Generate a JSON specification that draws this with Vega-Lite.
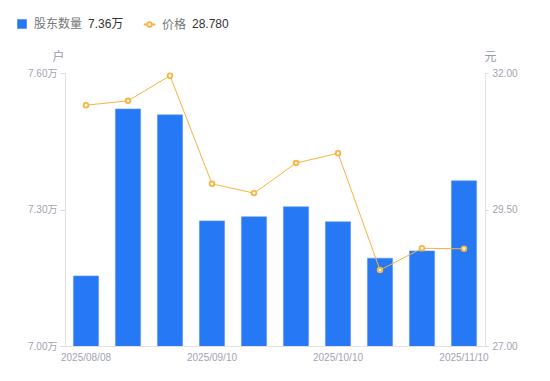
{
  "$schema": "https://vega.github.io/schema/vega-lite/v6.json",
  "width": 420,
  "height": 273,
  "autosize": {"type": "none"},
  "padding": {"left": 65, "top": 73, "right": 65, "bottom": 35},
  "background": "white",
  "config": {
    "view": {"stroke": null},
    "font": "Liberation Sans, Noto Sans CJK SC, sans-serif",
    "axis": {"labelFont": "Liberation Sans, Noto Sans CJK SC, sans-serif", "titleFont": "Liberation Sans, Noto Sans CJK SC, sans-serif"},
    "legend": {"labelFont": "Liberation Sans, Noto Sans CJK SC, sans-serif", "titleFont": "Liberation Sans, Noto Sans CJK SC, sans-serif"}
  },
  "data": {
    "values": [
      {"date": "2025/08/08", "holders": 71540, "price": 31.41},
      {"date": "2025/08/20", "holders": 75210, "price": 31.49},
      {"date": "2025/08/29", "holders": 75080, "price": 31.95},
      {"date": "2025/09/10", "holders": 72750, "price": 29.97},
      {"date": "2025/09/19", "holders": 72840, "price": 29.80},
      {"date": "2025/09/30", "holders": 73060, "price": 30.35},
      {"date": "2025/10/10", "holders": 72730, "price": 30.53},
      {"date": "2025/10/20", "holders": 71930, "price": 28.39},
      {"date": "2025/10/31", "holders": 72090, "price": 28.79},
      {"date": "2025/11/10", "holders": 73630, "price": 28.78}
    ]
  },
  "encoding": {
    "x": {
      "field": "date",
      "type": "ordinal",
      "sort": null,
      "scale": {"paddingInner": 0.4, "paddingOuter": 0.2},
      "axis": {
        "title": null,
        "labelAngle": 0,
        "values": ["2025/08/08", "2025/09/10", "2025/10/10", "2025/11/10"],
        "ticks": false,
        "labelPadding": 6,
        "labelFontSize": 10,
        "labelColor": "#a3a3b3",
        "domainColor": "#e3e3e3",
        "grid": false
      }
    }
  },
  "layer": [
    {
      "mark": {"type": "bar", "clip": true, "stroke": "#5f98f6", "strokeWidth": 0.6},
      "encoding": {
        "y": {
          "field": "holders",
          "type": "quantitative",
          "scale": {"domain": [70000, 76000], "zero": false, "nice": false},
          "axis": {
            "title": "户",
            "titleAngle": 0,
            "titleX": -7,
            "titleY": -10,
            "titleAlign": "center",
            "titleBaseline": "bottom",
            "titleColor": "#9a9aaa",
            "titleFontWeight": "normal",
            "titleFontSize": 12,
            "values": [70000, 73000, 76000],
            "labelExpr": "format(datum.value/10000,'.2f')+'万'",
            "labelFontSize": 10,
            "labelColor": "#a3a3b3",
            "labelPadding": 3,
            "tickSize": 5,
            "tickColor": "#d9d9d9",
            "domainColor": "#e3e3e3",
            "grid": false
          }
        },
        "fill": {
          "datum": "股东数量",
          "type": "nominal",
          "scale": {"domain": ["股东数量"], "range": ["#2678f5"]},
          "legend": {
            "title": "7.36万",
            "titleOrient": "right",
            "titleFontSize": 12,
            "titleFontWeight": "normal",
            "titleColor": "#333333",
            "titlePadding": 6,
            "titleBaseline": "middle",
            "orient": "none",
            "legendX": -49,
            "legendY": -55,
            "labelFontSize": 12,
            "labelColor": "#777777",
            "labelOffset": 6,
            "symbolType": "square",
            "symbolSize": 90,
            "symbolStrokeWidth": 0
          }
        }
      }
    },
    {
      "mark": {
        "type": "line",
        "strokeWidth": 1,
        "point": {"filled": false, "fill": "white", "size": 22, "strokeWidth": 1.8}
      },
      "encoding": {
        "y": {
          "field": "price",
          "type": "quantitative",
          "scale": {"domain": [27, 32], "zero": false, "nice": false},
          "axis": {
            "orient": "right",
            "title": "元",
            "titleAngle": 0,
            "titleX": 5,
            "titleY": -10,
            "titleAlign": "center",
            "titleBaseline": "bottom",
            "titleColor": "#9a9aaa",
            "titleFontWeight": "normal",
            "titleFontSize": 12,
            "values": [27, 29.5, 32],
            "format": ".2f",
            "labelFontSize": 10,
            "labelColor": "#a3a3b3",
            "labelPadding": 4,
            "tickSize": 3,
            "tickColor": "#d9d9d9",
            "domainColor": "#e3e3e3",
            "grid": false
          }
        },
        "stroke": {
          "datum": "价格",
          "type": "nominal",
          "scale": {"domain": ["价格"], "range": ["#f8b43e"]},
          "legend": {
            "title": "28.780",
            "titleOrient": "right",
            "titleFontSize": 12,
            "titleFontWeight": "normal",
            "titleColor": "#333333",
            "titlePadding": 6,
            "titleBaseline": "middle",
            "orient": "none",
            "legendX": 78,
            "legendY": -55,
            "labelFontSize": 12,
            "labelColor": "#777777",
            "labelOffset": 6,
            "symbolType": "M-1.1,0L-0.45,0M0.45,0L1.1,0M0.45,0A0.45,0.45,0,1,1,-0.45,0A0.45,0.45,0,1,1,0.45,0Z",
            "symbolSize": 110,
            "symbolFillColor": "white",
            "symbolStrokeWidth": 1.8
          }
        }
      }
    }
  ],
  "resolve": {"scale": {"y": "independent"}}
}
